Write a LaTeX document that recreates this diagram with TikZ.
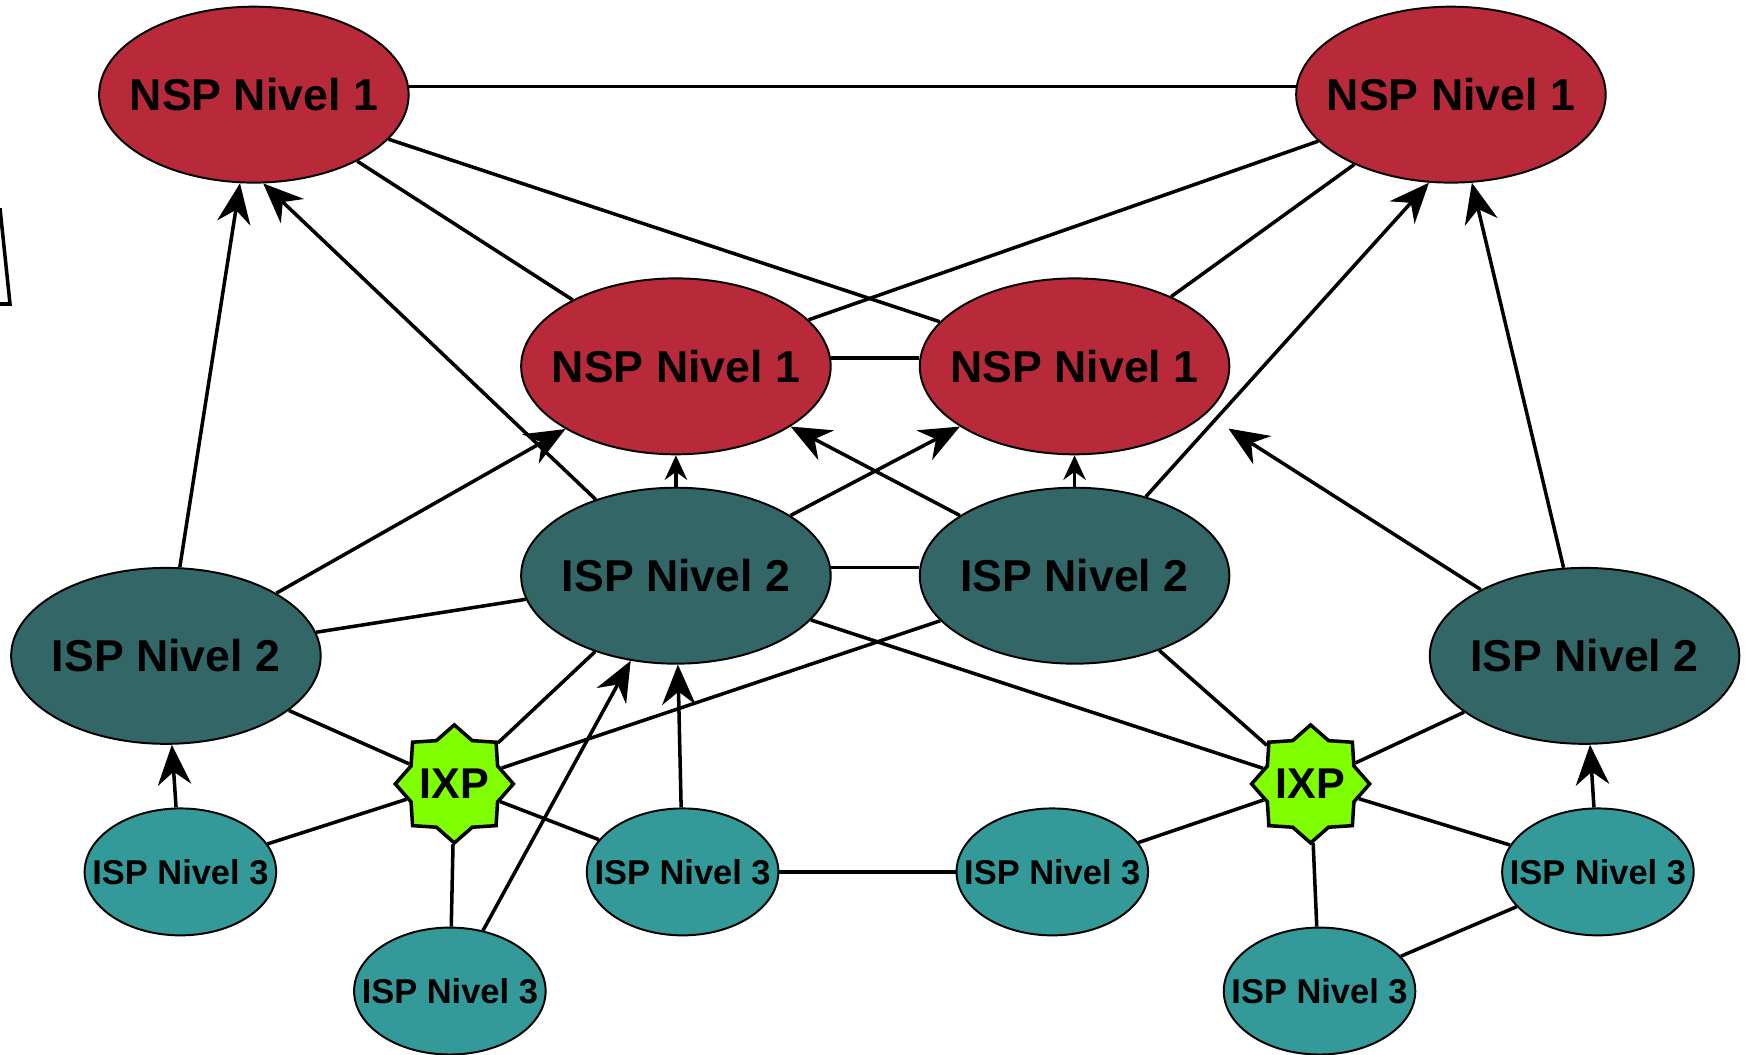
\documentclass[tikz,border=0pt]{standalone}
\usepackage{fontspec}
\setmainfont{Liberation Sans}
\usepackage{tikz}
\usepackage{xcolor}
\usetikzlibrary{positioning, arrows.meta}
\usetikzlibrary{shapes.geometric}

\definecolor{nspred}{RGB}{184,42,58}
\definecolor{ispdark}{RGB}{51,102,102}
\definecolor{isplight}{RGB}{51,153,153}
\definecolor{ixpgreen}{RGB}{127,255,0}

\begin{document}
\begin{tikzpicture}[
            nsp/.style={ellipse, draw=black, line width=0.5pt, fill=nspred, minimum width=2.78cm, minimum height=1.58cm, inner sep=0pt},
            isp/.style={ellipse, draw=black, line width=0.5pt, fill=ispdark, minimum width=2.78cm, minimum height=1.58cm, inner sep=0pt},
            lcl/.style={ellipse, draw=black, line width=0.5pt, fill=isplight, minimum width=1.72cm, minimum height=1.14cm, inner sep=0pt},
            ixp/.style={star, star points=8, star point ratio=1.26, draw=black, line width=0.9pt, fill=ixpgreen, minimum size=1.06cm, inner sep=0pt},
            bigtxt/.style={font=\bfseries\fontsize{11.4}{13}\selectfont},
            ixptxt/.style={font=\bfseries\fontsize{11}{13}\selectfont},
            smalltxt/.style={font=\bfseries\fontsize{8.8}{10}\selectfont},
            lnk/.style={line width=0.9pt},
            up/.style={line width=0.9pt, -{Stealth[length=3.6mm, width=3mm]}},
            upsmall/.style={line width=0.9pt, -{Stealth[length=2.2mm, width=2mm]}}
        ]
            \useasboundingbox (0,0) rectangle (15.68,-9.47);

            \node[nsp, label={[bigtxt]center:NSP Nivel 1}] (nspA) at (2.28, -0.85) {};
            \node[nsp, label={[bigtxt]center:NSP Nivel 1}] (nspB) at (13.03, -0.85) {};
            \node[nsp, label={[bigtxt]center:NSP Nivel 1}] (nspC) at (6.07, -3.29) {};
            \node[nsp, label={[bigtxt]center:NSP Nivel 1}] (nspD) at (9.65, -3.29) {};

            \node[isp, label={[bigtxt]center:ISP Nivel 2}] (ispA) at (1.49, -5.89) {};
            \node[isp, label={[bigtxt]center:ISP Nivel 2}] (ispB) at (6.07, -5.17) {};
            \node[isp, label={[bigtxt]center:ISP Nivel 2}] (ispC) at (9.65, -5.17) {};
            \node[isp, label={[bigtxt]center:ISP Nivel 2}] (ispD) at (14.23, -5.89) {};

            \node[ixp, label={[ixptxt]center:IXP}] (ixpA) at (4.08, -7.04) {};
            \node[ixp, label={[ixptxt]center:IXP}] (ixpB) at (11.77, -7.04) {};

            \node[lcl, label={[smalltxt]center:ISP Nivel 3}] (lclA) at (1.62, -7.83) {};
            \node[lcl, label={[smalltxt]center:ISP Nivel 3}] (lclB) at (6.13, -7.83) {};
            \node[lcl, label={[smalltxt]center:ISP Nivel 3}] (lclC) at (9.45, -7.83) {};
            \node[lcl, label={[smalltxt]center:ISP Nivel 3}] (lclD) at (14.35, -7.83) {};
            \node[lcl, label={[smalltxt]center:ISP Nivel 3}] (lclE) at (4.04, -8.90) {};
            \node[lcl, label={[smalltxt]center:ISP Nivel 3}] (lclF) at (11.85, -8.90) {};

            \draw[lnk] (0,-1.87) -- (0.09,-2.73) -- (0,-2.73);

            \draw[lnk] (nspA.3) -- (nspB.177);
            \draw[lnk] (nspA) -- (nspC);
            \draw[lnk] (nspA) -- (nspD);
            \draw[lnk] (nspB) -- (nspC);
            \draw[lnk] (nspB) -- (nspD);
            \draw[lnk] (nspC.3) -- (nspD.177);
            \draw[lnk] (ispB.3) -- (ispC.177);
            \draw[lnk] (ispA) -- (ispB);
            \draw[up] (ispA) -- (nspA);
            \draw[up] (ispA) -- (nspC);
            \draw[up] (ispB) -- (nspA.-84);
            \draw[upsmall] (ispB) -- (nspC);
            \draw[up] (ispB) -- (nspD);
            \draw[up] (ispC) -- (nspC);
            \draw[upsmall] (ispC) -- (nspD);
            \draw[up] (ispC) -- (nspB.-104);
            \draw[up] (ispD) -- (nspB);
            \draw[up, shorten >=0.24cm] (ispD) -- (nspD.-20);
            \draw[lnk] (ispA) -- (ixpA);
            \draw[lnk] (ispB) -- (ixpA);
            \draw[lnk] (ispC) -- (ixpA);
            \draw[lnk] (ispB) -- (ixpB);
            \draw[lnk] (ispC) -- (ixpB);
            \draw[lnk] (ispD) -- (ixpB);
            \draw[up] (lclA) -- (ispA);
            \draw[lnk] (lclA) -- (ixpA);
            \draw[lnk] (lclB) -- (ixpA);
            \draw[up] (lclB) -- (ispB);
            \draw[lnk] (lclE) -- (ixpA);
            \draw[up] (lclE) -- (ispB.-118);
            \draw[lnk] (lclB) -- (lclC);
            \draw[lnk] (lclC) -- (ixpB);
            \draw[lnk] (lclD) -- (ixpB);
            \draw[lnk] (lclF) -- (ixpB);
            \draw[lnk] (lclF) -- (lclD);
            \draw[up] (lclD) -- (ispD);
        \end{tikzpicture}
\end{document}
